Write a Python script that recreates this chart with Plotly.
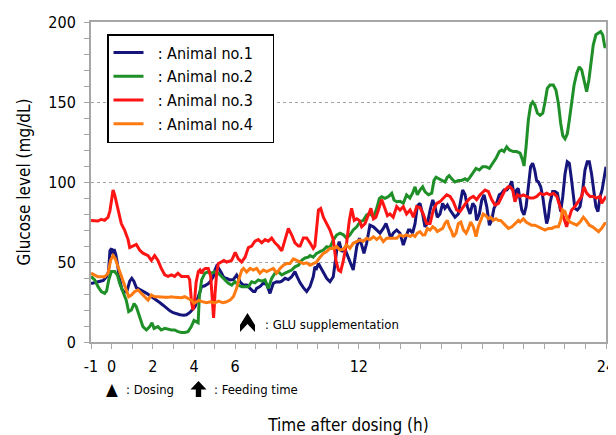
import plotly.graph_objects as go

# ---------------- data ----------------
x_tick_labels = {-1: "-1", 0: "0", 2: "2", 4: "4", 6: "6", 12: "12", 24: "24"}
y_tick_labels = ["0", "50", "100", "150", "200"]

names = ["  : Animal no.1   ", "  : Animal no.2   ", "  : Animal no.3   ", "  : Animal no.4   "]
colors = ["#15157c", "#1f8f28", "#ff1414", "#ff7a10"]

t1 = [-1.0, -0.8, -0.55, -0.4, -0.24, -0.15, -0.08, 0.0, 0.05, 0.12, 0.2, 0.28, 0.38, 0.5, 0.62, 0.75, 0.88, 0.98,
      1.08, 1.2, 1.38, 1.55, 1.7, 1.87, 2.03, 2.2, 2.35, 2.5, 2.67, 2.83, 2.99, 3.15, 3.32, 3.5, 3.64, 3.8, 3.95,
      4.05, 4.15, 4.21, 4.3, 4.37, 4.5, 4.61, 4.7, 4.78, 4.86, 4.94, 5.02, 5.1, 5.18, 5.26, 5.34, 5.42, 5.5, 5.59,
      5.75, 5.91, 6.0, 6.07, 6.15, 6.23, 6.39, 6.56, 6.72, 6.88, 6.96, 7.04, 7.2, 7.37, 7.53, 7.69, 7.85, 8.01,
      8.17, 8.26, 8.42, 8.58, 8.74, 8.9, 9.0, 9.15, 9.31, 9.47, 9.63, 9.79, 9.87, 9.95, 10.04, 10.12, 10.2, 10.28,
      10.44, 10.6, 10.76, 10.93, 11.05, 11.17, 11.33, 11.41, 11.54, 11.65, 11.73, 11.9, 12.03, 12.14, 12.25, 12.38,
      12.54, 12.71, 12.87, 13.03, 13.19, 13.32, 13.43, 13.55, 13.67, 13.84, 14.0, 14.16, 14.29, 14.41, 14.49,
      14.61, 14.73, 14.84, 14.97, 15.1, 15.21, 15.33, 15.46, 15.59, 15.7, 15.81, 15.94, 16.07, 16.18, 16.3, 16.43,
      16.56, 16.67, 16.83, 16.95, 17.04, 17.16, 17.27, 17.4, 17.53, 17.64, 17.72, 17.85, 17.97, 18.08, 18.21,
      18.34, 18.45, 18.56, 18.69, 18.82, 18.94, 19.05, 19.18, 19.31, 19.42, 19.5, 19.58, 19.66, 19.74, 19.83,
      19.91, 20.02, 20.12, 20.23, 20.34, 20.44, 20.54, 20.63, 20.72, 20.83, 20.93, 21.04, 21.12, 21.2, 21.28,
      21.41, 21.52, 21.64, 21.73, 21.8, 21.9, 22.01, 22.12, 22.22, 22.33, 22.41, 22.49, 22.61, 22.74, 22.87,
      22.98, 23.09, 23.19, 23.3, 23.42, 23.51, 23.61, 23.71, 23.81, 23.9, 24.0]
v1 = [36.5, 37, 38, 38.5, 41, 44, 57, 58.5, 55, 58, 55, 49, 40, 33, 31, 32, 38, 39.8,
      38, 34, 32.5, 31.5, 30.4, 29, 27.3, 26, 24.5, 23, 21, 19.5, 18.3, 17.5, 17, 16.8, 17, 18.5, 20.5,
      22, 26, 28.3, 32, 34.6, 35, 35.6, 36.5, 37.7, 39, 40.8, 45, 47.5, 46.5, 45, 43, 40.8, 40, 39.8,
      38.8, 39, 40.5, 41.9, 40, 37.7, 35.6, 35.6, 33.5, 31.5, 31.5, 33.5, 34.6, 36.7, 36, 30.4, 36.7, 37.7,
      37.5, 38, 39.8, 39, 40.8, 44, 41, 37, 34, 31.5, 34.6, 40.8, 47, 46, 49, 47, 46, 43,
      39.8, 37.7, 40.8, 57.5, 62.7, 56.5, 58.5, 55.4, 51, 47, 45, 59.6, 64.8, 60.6, 55.4, 61.7,
      73, 72, 70, 68, 71, 74, 70, 64.8, 68, 70, 68, 60.6, 65.8, 70, 70,
      68, 74, 85, 86.7, 80, 72, 74, 82.5, 88.8, 84.6, 78, 80, 86.7, 83.5, 85.6, 82.5,
      80, 78, 80, 88.8, 95, 92, 84.6, 80, 86.7, 84.6, 76, 80, 88.8, 92, 84.6,
      73, 76, 83.5, 86.7, 92, 93, 95, 95, 97, 100.5, 95, 88.8, 95, 96, 88.8,
      82.5, 79.4, 84.6, 97, 109.6, 111.7, 107.5, 101, 100, 97, 90.8, 80.4, 74, 78, 86.7,
      94, 94, 93, 84.6, 81.5, 90.8, 105, 112.7, 111.7, 101, 90.8, 83.5, 82.5, 84.6, 95,
      107.5, 112.7, 112.7, 105, 93, 84.6, 81.5, 90.8, 95, 101, 109.6]

t2 = [-1.0, -0.82, -0.66, -0.5, -0.34, -0.24, -0.14, -0.01, 0.15, 0.28, 0.39, 0.55, 0.71, 0.83, 0.96, 1.09, 1.2,
      1.36, 1.52, 1.69, 1.85, 1.96, 2.06, 2.25, 2.41, 2.58, 2.74, 2.9, 3.06, 3.22, 3.39, 3.55, 3.71, 3.87, 4.0,
      4.11, 4.2, 4.26, 4.37, 4.53, 4.7, 4.86, 5.02, 5.18, 5.34, 5.51, 5.67, 5.83, 5.99, 6.15, 6.32, 6.48, 6.64,
      6.8, 6.96, 7.12, 7.29, 7.45, 7.61, 7.77, 7.93, 8.09, 8.26, 8.42, 8.58, 8.74, 8.9, 9.07, 9.23, 9.39, 9.55,
      9.63, 9.79, 9.95, 10.12, 10.28, 10.44, 10.6, 10.76, 10.93, 11.09, 11.25, 11.41, 11.57, 11.73, 11.9, 12.06,
      12.22, 12.38, 12.54, 12.71, 12.87, 13.0, 13.11, 13.27, 13.43, 13.6, 13.71, 13.84, 14.0, 14.16, 14.32, 14.48,
      14.61, 14.73, 14.84, 14.97, 15.1, 15.21, 15.38, 15.54, 15.65, 15.75, 15.91, 16.02, 16.18, 16.3, 16.39,
      16.51, 16.67, 16.83, 16.99, 17.16, 17.27, 17.4, 17.56, 17.69, 17.85, 18.01, 18.18, 18.34, 18.5, 18.66,
      18.82, 18.94, 19.05, 19.18, 19.31, 19.5, 19.66, 19.83, 19.95, 20.02, 20.12, 20.23, 20.34, 20.44, 20.55,
      20.67, 20.8, 20.93, 21.04, 21.15, 21.28, 21.44, 21.57, 21.69, 21.8, 21.9, 22.01, 22.12, 22.22, 22.33,
      22.45, 22.58, 22.7, 22.82, 22.93, 23.06, 23.17, 23.29, 23.38, 23.51, 23.63, 23.74, 23.84, 23.94, 24.0]
v2 = [41, 38.8, 34.6, 31.5, 30.4, 32, 38.8, 44, 44, 41.9, 36.7, 31.5, 26.2, 19, 20, 24, 22,
      15.8, 9.6, 7.5, 9.6, 12, 8.5, 9.6, 7.5, 8.5, 8, 7.5, 7.5, 6.5, 6, 6, 6.5, 9.6, 13.5,
      12.7, 12, 28.3, 38.8, 43, 44, 43, 44, 43, 40.8, 38.8, 36.7, 35.6, 37.7, 35.6, 34.6, 34.6, 34.6,
      37.7, 37, 38.8, 38, 38.8, 33.5, 39.8, 43, 44, 41.9, 43, 44, 45, 47, 48, 51, 52.5, 53,
      54, 53, 55.4, 56.5, 57.5, 59.6, 59, 63.7, 67, 68, 67, 64.8, 67, 70, 72, 75,
      76, 79.4, 80.4, 78, 83.5, 89.8, 90.8, 89.8, 90.8, 93, 88.8, 87.7, 88, 86.7, 92, 90,
      93, 97, 92, 95, 97, 94, 92, 93, 101, 103, 102, 101, 100, 103, 104,
      102, 100, 101, 101, 102, 101, 103, 106.5, 108.5, 107.5, 109.6, 109.6, 108.5, 111.7, 114.8,
      119, 120, 119, 122, 120, 119, 119, 118, 113.75, 110, 122, 138.75, 148, 150, 148,
      143, 141.7, 143, 150, 158.5, 160.6, 160.6, 157.5, 149, 136.7, 129, 127, 130, 138.75, 150,
      160.6, 168, 172, 170, 162.7, 156.5, 163.75, 178, 185.6, 192, 193, 194, 192, 184.6, 184]

t3 = [-1.0, -0.9, -0.66, -0.5, -0.34, -0.17, -0.08, -0.01, 0.07, 0.15, 0.31, 0.47, 0.63, 0.8, 0.88, 1.04, 1.2,
      1.36, 1.52, 1.77, 1.93, 2.09, 2.25, 2.41, 2.58, 2.74, 2.9, 3.06, 3.22, 3.39, 3.55, 3.71, 3.79, 3.88, 3.95,
      4.03, 4.1, 4.21, 4.29, 4.37, 4.45, 4.55, 4.69, 4.81, 4.88, 4.95, 5.02, 5.1, 5.18, 5.34, 5.45, 5.59, 5.83,
      6.0, 6.15, 6.31, 6.48, 6.64, 6.8, 6.96, 7.12, 7.29, 7.45, 7.61, 7.77, 7.93, 8.09, 8.26, 8.42, 8.58, 8.74,
      8.9, 9.07, 9.15, 9.31, 9.47, 9.63, 9.79, 9.87, 10.04, 10.15, 10.28, 10.44, 10.6, 10.76, 10.89, 11.01,
      11.12, 11.25, 11.41, 11.54, 11.65, 11.78, 11.9, 12.03, 12.14, 12.3, 12.46, 12.59, 12.71, 12.83, 12.95,
      13.11, 13.27, 13.39, 13.51, 13.67, 13.84, 14.0, 14.16, 14.32, 14.49, 14.65, 14.81, 14.97, 15.13, 15.29,
      15.46, 15.62, 15.78, 15.94, 16.1, 16.27, 16.43, 16.59, 16.75, 16.91, 17.08, 17.24, 17.4, 17.56, 17.72,
      17.89, 18.13, 18.29, 18.45, 18.61, 18.78, 18.94, 19.1, 19.26, 19.34, 19.47, 19.58, 19.7, 19.83, 19.99,
      20.15, 20.31, 20.47, 20.64, 20.8, 20.96, 21.12, 21.28, 21.44, 21.61, 21.77, 21.93, 22.09, 22.17, 22.33,
      22.49, 22.66, 22.82, 22.93, 23.06, 23.22, 23.38, 23.54, 23.71, 23.79, 23.95, 24.0]
v3 = [76, 76, 75.6, 76.7, 76, 78, 82, 88, 95, 92, 82, 74, 70, 64, 59, 60, 61,
      57.5, 55.5, 54, 51, 54, 51, 46, 42, 41, 42, 41, 43, 41, 41, 41, 39, 25, 20,
      26, 37, 44, 45, 43, 45, 46, 46, 41, 28, 15, 30, 43, 49, 50, 51, 50, 51,
      56, 52, 50, 53, 59, 60, 63, 64, 62, 64, 63, 65, 62, 60, 57, 64, 71, 67,
      62, 60, 60, 65, 65, 62, 58.5, 60, 82.5, 83.5, 78, 74, 70, 64, 51, 45,
      44, 51, 62, 76, 83.5, 76, 77, 76, 72, 74, 80, 83.5, 77, 78, 82.5,
      89, 83.5, 79, 80, 78, 84.6, 82.5, 84.6, 80, 82.5, 78, 84.6, 84, 80, 74,
      74, 82.5, 86.7, 87.7, 89.8, 92, 91, 87.7, 82.5, 81.5, 84.6, 87.7, 89.8, 91, 89,
      92, 95, 94, 89, 85.6, 86.7, 91, 95, 97, 97, 95, 87.7, 92, 91, 92,
      91, 90, 90, 91, 93, 92, 93, 92, 93, 91, 84.6, 78, 72, 76, 82.5,
      84.6, 87.7, 91, 97, 93, 91, 91, 90, 91, 86.7, 90, 89]

t4 = [-1.0, -0.82, -0.66, -0.5, -0.34, -0.17, -0.05, 0.07, 0.18, 0.31, 0.47, 0.6, 0.71, 0.83, 0.96, 1.12, 1.28,
      1.44, 1.61, 1.77, 1.93, 2.09, 2.25, 2.41, 2.58, 2.74, 2.9, 3.06, 3.22, 3.39, 3.55, 3.71, 3.87, 4.0, 4.11,
      4.23, 4.4, 4.6, 4.8, 5.0, 5.2, 5.4, 5.55, 5.75, 5.91, 6.0, 6.07, 6.15, 6.23, 6.32, 6.4, 6.56, 6.72, 6.88,
      7.04, 7.2, 7.37, 7.53, 7.69, 7.85, 8.01, 8.18, 8.34, 8.5, 8.66, 8.82, 8.99, 9.15, 9.31, 9.47, 9.63, 9.79,
      9.95, 10.12, 10.28, 10.44, 10.6, 10.76, 10.93, 11.09, 11.25, 11.41, 11.57, 11.73, 11.9, 12.06, 12.22,
      12.38, 12.54, 12.71, 12.87, 13.03, 13.19, 13.35, 13.51, 13.67, 13.84, 14.0, 14.16, 14.32, 14.49, 14.61,
      14.73, 14.84, 14.97, 15.1, 15.21, 15.33, 15.46, 15.59, 15.7, 15.81, 15.94, 16.07, 16.18, 16.3, 16.39,
      16.51, 16.59, 16.72, 16.83, 16.95, 17.08, 17.21, 17.32, 17.43, 17.56, 17.69, 17.8, 17.91, 18.04, 18.17,
      18.29, 18.4, 18.53, 18.66, 18.78, 18.89, 19.03, 19.15, 19.26, 19.43, 19.59, 19.75, 19.83, 19.99, 20.12,
      20.23, 20.39, 20.55, 20.72, 20.88, 21.04, 21.2, 21.36, 21.53, 21.69, 21.8, 21.9, 22.01, 22.12, 22.25,
      22.41, 22.58, 22.74, 22.9, 23.03, 23.19, 23.35, 23.51, 23.64, 23.79, 23.94, 24.0]
v4 = [43, 41.9, 40.8, 40.8, 40.8, 43, 51, 54, 52, 47, 40.8, 36.7, 32.5, 28.3, 29.4, 31.5, 32.5,
      30.4, 28.3, 26.2, 29.4, 28.3, 28.3, 27.9, 27.9, 27.9, 28.3, 27.9, 27.9, 27.7, 28.3, 27.3, 26.2, 24.2, 25,
      26, 25.2, 24.5, 25.2, 24.5, 25.5, 24.5, 25, 26.2, 28.3, 31, 33.5, 38, 40.8, 45, 46, 43.75, 46, 45,
      46, 43, 45, 44, 45, 46, 43, 46, 48, 49, 49, 52, 51, 50, 49, 49.5, 48, 49,
      50, 53, 55.4, 56.5, 58.5, 58.5, 59.6, 57.5, 58, 60.6, 58.5, 61.7, 62.7, 63.75, 63,
      64.8, 64, 65.8, 64, 65.8, 62.7, 64.8, 64.8, 64.8, 64.8, 66.9, 66, 66.9, 66, 66.9,
      66, 68, 69, 66.9, 67, 71, 70, 72, 71, 69, 70, 71, 74, 76, 72,
      69, 65.8, 68, 74, 75, 70, 68, 71, 75, 72, 65.8, 72, 76, 80, 79,
      77, 78, 76, 77, 76, 76, 74, 72, 71, 72, 74, 76, 75, 77, 75,
      74, 73, 73, 72, 71, 70, 71, 71, 72, 72, 76, 82.5, 81.5, 77, 75,
      74, 73, 75, 78, 76, 73, 72, 70, 69, 71, 74, 74]

series = [(t1, v1), (t2, v2), (t3, v3), (t4, v4)]

# ---------------- layout helpers ----------------
FONT = "DejaVu Sans Condensed, DejaVu Sans, sans-serif"
AXIS_GRAY = "#a6a6a6"

# plot area in window pixels (page body has an 8px margin)
PL, PR, PT, PB = 91, 606, 22, 342
OFF = 8
FIG_W, FIG_H = 616, 427


def px(X):
    return (X - PL) / (PR - PL)


def py(Y):
    return (PB - Y) / (PB - PT)


def path(points):
    return "M " + " L ".join(f"{px(X):.5f},{py(Y):.5f}" for X, Y in points) + " Z"


fig = go.Figure()
for (t, v), name, color in zip(series, names, colors):
    fig.add_trace(go.Scatter(x=t, y=v, mode="lines", name=name, legendgroup=name,
                             line=dict(color=color, width=3)))

x_ticks = list(range(-1, 25))
fig.update_xaxes(
    range=[-1, 24], tickmode="array", tickvals=x_ticks,
    ticktext=[x_tick_labels.get(k, "") for k in x_ticks],
    ticks="outside", ticklen=5, tickwidth=1, tickcolor=AXIS_GRAY,
    showline=True, linecolor=AXIS_GRAY, linewidth=2, mirror=True,
    showgrid=False, zeroline=False, ticklabelstandoff=4, automargin=False,
    ticklabeloverflow="allow",
    tickfont=dict(family=FONT, size=16, color="#000"),
    title=dict(text="Time after dosing (h)", font=dict(family=FONT, size=17, color="#000"), standoff=52),
)
fig.update_yaxes(
    range=[0, 200], tickmode="array", tickvals=[0, 50, 100, 150, 200], ticktext=y_tick_labels,
    ticks="outside", ticklen=5, tickwidth=1, tickcolor=AXIS_GRAY,
    minor=dict(dtick=10, tick0=0, ticks="outside", ticklen=5, tickcolor=AXIS_GRAY, showgrid=False),
    showline=True, linecolor=AXIS_GRAY, linewidth=2, mirror=True,
    showgrid=True, gridcolor="#a0a0a0", griddash="dot", gridwidth=1, zeroline=False,
    ticklabelstandoff=5, automargin=False,
    tickfont=dict(family=FONT, size=16, color="#000"),
    title=dict(text="Glucose level (mg/dL)", font=dict(family=FONT, size=17, color="#000"), standoff=13),
)

ann_font = dict(family=FONT, size=13, color="#000")
annotations = [
    dict(text="▲", x=0, y=py(389), xref="x", yref="paper",
         xanchor="center", yanchor="middle", showarrow=False,
         font=dict(family=FONT, size=17, color="#000")),
    dict(text=": Dosing", x=px(124), y=py(389), xref="paper", yref="paper",
         xanchor="left", yanchor="middle", showarrow=False, font=ann_font),
    dict(text=": Feeding time", x=px(212), y=py(389), xref="paper", yref="paper",
         xanchor="left", yanchor="middle", showarrow=False, font=ann_font),
    dict(text=": GLU supplementation", x=px(263), y=py(324), xref="paper", yref="paper",
         xanchor="left", yanchor="middle", showarrow=False, font=ann_font),
]

shapes = [
    # GLU supplementation chevron
    dict(type="path", xref="paper", yref="paper", line=dict(width=0), fillcolor="#000",
         path=path([(247.5, 313), (255, 325), (255, 332), (247.5, 324), (240, 332), (240, 325)])),
    # feeding-time block arrow
    dict(type="path", xref="paper", yref="paper", line=dict(width=0), fillcolor="#000",
         path=path([(198.5, 381), (206.5, 389.5), (201.2, 389.5), (201.2, 397), (195.8, 397),
                    (195.8, 389.5), (190.5, 389.5)])),
]

fig.update_layout(
    width=FIG_W, height=FIG_H,
    margin=dict(l=PL - OFF, r=FIG_W - (PR - OFF), t=PT - OFF, b=FIG_H - (PB - OFF)),
    paper_bgcolor="white", plot_bgcolor="white",
    showlegend=True,
    legend=dict(x=px(107), y=py(34), xanchor="left", yanchor="top",
                bordercolor="#000", borderwidth=1.5, bgcolor="white",
                traceorder="grouped", tracegroupgap=0,
                font=dict(family=FONT, size=16, color="#000")),
    annotations=annotations,
    shapes=shapes,
    font=dict(family=FONT),
)

fig.write_html("out.html")
